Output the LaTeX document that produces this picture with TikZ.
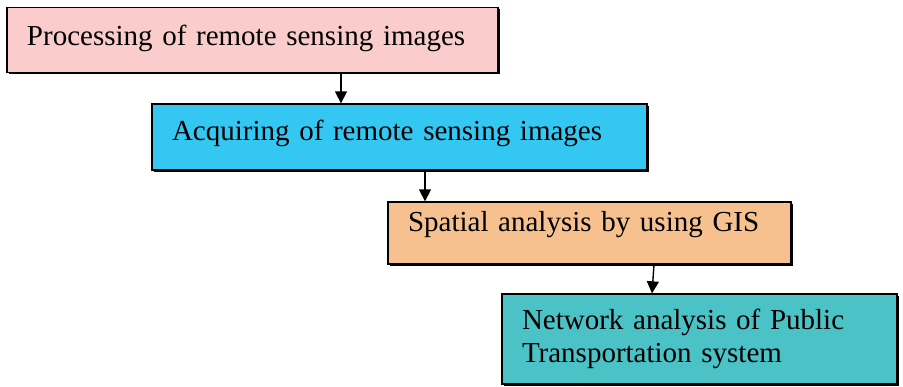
\documentclass[tikz,border=0pt]{standalone}
\usepackage{fontspec}
\setmainfont{Liberation Serif}
\usetikzlibrary{arrows.meta,shadows}
\definecolor{cpink}{RGB}{250,204,204}
\definecolor{cblue}{RGB}{52,199,242}
\definecolor{corange}{RGB}{247,193,143}
\definecolor{cteal}{RGB}{74,194,198}
\begin{document}
\begin{tikzpicture}[x=1pt,y=-1pt,
  box/.style={draw=black, line width=1.3pt, rectangle, inner xsep=20pt, inner ysep=0pt,
    align=left, font=\fontsize{29}{33}\selectfont,
    general shadow={shadow xshift=2pt, shadow yshift=-2pt, fill=black}},
  arr/.style={line width=1.4pt, -{Triangle[width=12pt,length=12pt]}}]
\useasboundingbox (0,0) rectangle (903,387);
\node[box, fill=cpink, minimum width=491pt, minimum height=65pt, text width=451pt, text depth=10pt]
  (p) at (252.5,40) {Processing of remote sensing images};
\node[box, fill=cblue, minimum width=495pt, minimum height=66pt, text width=455pt, text depth=14pt]
  (q) at (399.5,137) {Acquiring of remote sensing images};
\node[box, fill=corange, minimum width=403pt, minimum height=62pt, text width=363pt, text depth=23pt]
  (s) at (589.5,233) {Spatial analysis by using GIS};
\node[box, fill=cteal, minimum width=395pt, minimum height=90pt, text width=355pt]
  (n) at (699.5,339) {Network analysis of Public\\Transportation system};
\coordinate (c1) at (341,0);
\coordinate (c2) at (425,0);
\coordinate (c3a) at (654,0);
\coordinate (c3b) at (652,0);
\draw[arr] (p.south -| c1) -- (q.north -| c1);
\draw[arr] (q.south -| c2) -- (s.north -| c2);
\draw[arr] (s.south -| c3a) -- (n.north -| c3b);
\end{tikzpicture}
\end{document}
